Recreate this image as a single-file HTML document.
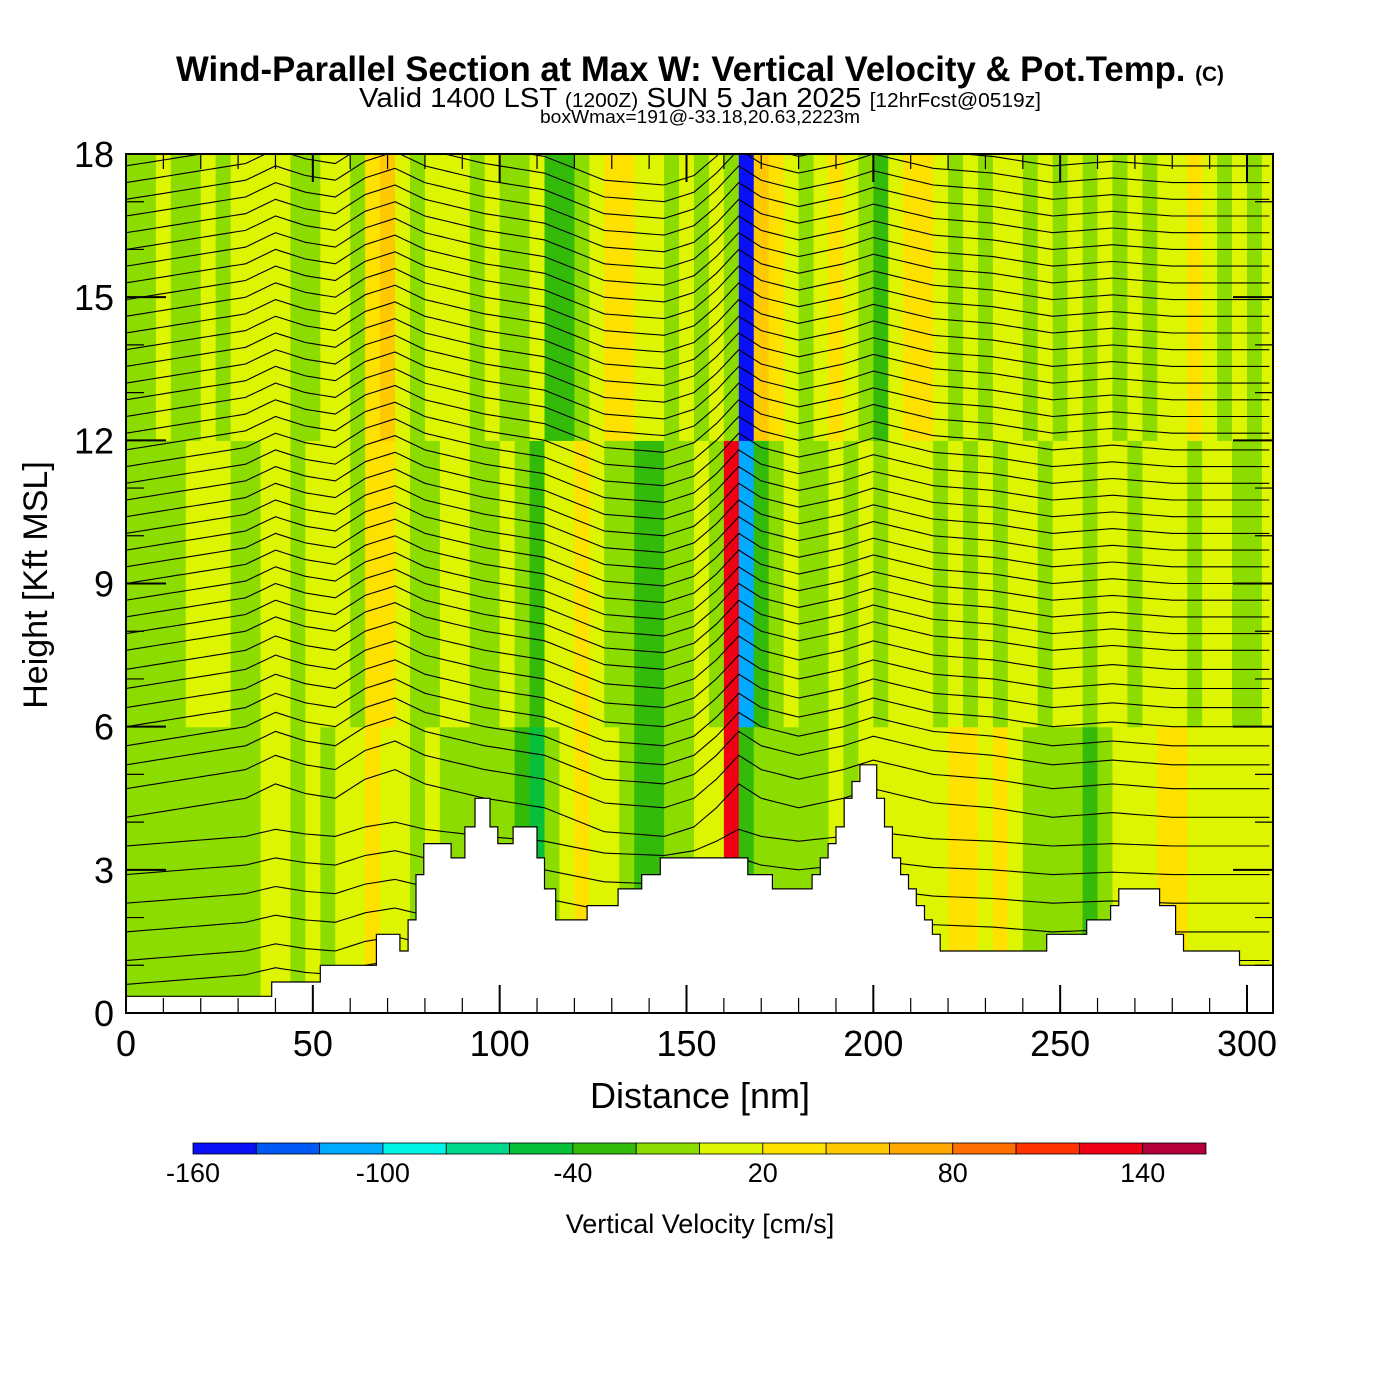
<!DOCTYPE html>
<html><head><meta charset="utf-8"><style>
html,body{margin:0;padding:0;background:#fff;}
svg{display:block;font-family:"Liberation Sans",sans-serif;}
</style></head><body>
<svg id="chart" width="1400" height="1400" viewBox="0 0 1400 1400" xmlns="http://www.w3.org/2000/svg">
<text x="700" y="81" text-anchor="middle" font-size="35" font-weight="bold" textLength="1048" lengthAdjust="spacingAndGlyphs">Wind-Parallel Section at Max W: Vertical Velocity &amp; Pot.Temp. <tspan font-size="21">(C)</tspan></text>
<text x="700" y="107" text-anchor="middle" font-size="28" textLength="682" lengthAdjust="spacingAndGlyphs">Valid 1400 LST <tspan font-size="20">(1200Z)</tspan> SUN 5 Jan 2025 <tspan font-size="20">[12hrFcst@0519z]</tspan></text>
<text x="700" y="123" text-anchor="middle" font-size="18" textLength="320" lengthAdjust="spacingAndGlyphs">boxWmax=191@-33.18,20.63,2223m</text>
<defs><clipPath id="plotclip"><rect x="126" y="154" width="1147" height="859"/></clipPath></defs>
<g id="cells" clip-path="url(#plotclip)"></g>
<g id="isentropes" clip-path="url(#plotclip)" fill="none" stroke="#000" stroke-width="1.1"></g>
<g id="terrain" clip-path="url(#plotclip)"></g>
<g id="axes"></g>
<g id="colorbar"></g>
<text x="700" y="1108" text-anchor="middle" font-size="36">Distance [nm]</text>
<text transform="translate(47,585) rotate(-90)" text-anchor="middle" font-size="34">Height [Kft MSL]</text>
<text x="700" y="1233" text-anchor="middle" font-size="27">Vertical Velocity [cm/s]</text>
</svg>
<script>
// ---- data ----
const colStartNm = [0,4,8,12,16,20,24,28,32,36,40,44,48,52,56,60,64,68,72,76,80,84,88,92,96,100,104,108,112,116,120,124,128,132,136,140,144,148,152,156,160,164,168,172,176,180,184,188,192,196,200,204,208,212,216,220,224,228,232,236,240,244,248,252,256,260,264,268,272,276,280,284,288,292,296,300,304];
const bandBottoms = [0,6,12];
const wLow = [-10,-10,-10,-10,-10,-10,-10,-10,-10,10,10,-10,10,-10,10,10,30,10,10,-10,10,-10,-10,-10,-10,-10,-30,-50,-10,10,30,10,10,-10,-30,-30,-10,-10,10,10,130,-30,-10,-10,-10,-10,-10,10,-10,10,10,10,10,10,10,30,30,10,30,10,-10,-10,-10,-10,-30,-10,10,10,10,30,30,10,10,10,10,10,10];
const wMid = [-10,-10,-10,-10,10,10,10,-10,-10,10,10,-10,10,10,10,-10,30,30,10,-10,-10,10,10,-10,-10,10,-10,-30,10,10,30,10,-10,-10,-30,-30,-10,-10,10,-10,130,-110,-30,-10,10,-10,-10,10,-10,10,-10,10,10,10,-10,10,-10,10,-10,10,10,-10,10,10,-10,10,10,-10,10,10,10,-10,10,10,-10,-10,10];
const wHigh = [-10,-10,10,-10,-10,10,-10,10,10,10,10,-10,-10,10,10,-10,30,40,10,-10,10,10,10,-10,10,-10,-10,10,-30,-30,-10,10,30,30,10,10,-10,10,-10,10,-10,-150,50,30,10,-10,10,30,10,-10,-30,10,30,30,10,-10,10,-10,10,10,-10,10,-10,10,-10,10,-10,10,-10,10,10,30,10,-10,10,-10,10];
const terrStartNm = [0,39,52,67,73.3,75.5,77.6,79.7,87,90.7,93.4,97.4,99.5,103.6,110,112,115,123.4,131.7,138,143,166.4,173,183.6,185.8,187.9,190,192.2,194.3,196.4,200.9,203,205.1,207.3,209.4,211.5,213.7,215.8,217.9,246.4,257.1,263.5,265.7,276.6,280.9,283,298];
const terrHeights = [0.35,0.65,1.0,1.65,1.3,1.95,2.9,3.55,3.25,3.9,4.5,3.9,3.55,3.9,3.25,2.6,1.95,2.25,2.6,2.9,3.25,2.9,2.6,2.9,3.25,3.55,3.9,4.5,4.85,5.2,4.5,3.9,3.25,2.9,2.6,2.25,1.95,1.65,1.3,1.65,1.95,2.25,2.6,2.25,1.65,1.3,1.0];
const thetaBaseKft = [0.6,1.1,1.7,2.3,2.9,3.5,4.1,4.7,5.2,5.6,6.0,6.4,6.8,7.2,7.6,7.95,8.3,8.65,9.0,9.35,9.7,10.05,10.4,10.75,11.1,11.45,11.8,12.15,12.5,12.85,13.2,13.55,13.9,14.25,14.6,14.95,15.3,15.65,16.0,16.35,16.7,17.05,17.4,17.75];
const dispNm = [0,16,32,40,48,56,64,72,80,96,112,128,144,152,158,164,170,180,192,200,216,232,248,264,280,306];
const dispKft = [0,0.2,0.4,0.7,0.5,0.4,0.8,1.0,0.7,0.4,0.2,-0.3,-0.4,-0.2,0.2,0.7,0.4,0.2,0.4,0.6,0.3,0.2,0.0,0.1,0.0,0];
const xTicks = [0,50,100,150,200,250,300];
const yTicks = [0,3,6,9,12,15,18];
const cbLevels = [-160,-140,-120,-100,-80,-60,-40,-20,0,20,40,60,80,100,120,140,160];
const cbColors = ["#0a10f5","#0058f5","#00aaff","#00f5e6","#00d88c","#08bf3a","#34bb0a","#8cdc00","#ddf500","#ffe100","#ffc800","#ffa800","#ff6e00","#ff3200","#f00014","#b40038"];
const cbLabels = [-160,-100,-40,20,80,140];

// ---- scales ----
const X0=126,X1=1273,Y0=1013,Y1=154;
const xS=nm=>X0+nm*(1121/300);
const yS=k=>Y0-k*(859/18);
const NS="http://www.w3.org/2000/svg";
function mk(tag,parent){const e=document.createElementNS(NS,tag);parent.appendChild(e);return e;}
function colorFor(v){let i=Math.floor((v-cbLevels[0])/20);i=Math.max(0,Math.min(cbColors.length-1,i));return cbColors[i];}

const cells=document.getElementById('cells');
const bands=[wLow,wMid,wHigh];
bands.forEach((arr,b)=>{
  arr.forEach((v,i)=>{
    const x0=xS(colStartNm[i]);
    const x1=i+1<colStartNm.length?xS(colStartNm[i+1]):X1;
    const r=mk('rect',cells);
    
    
    r.setAttribute('x',x0);r.setAttribute('width',x1-x0+0.6);
    r.setAttribute('y',yS(bandBottoms[b]+6));r.setAttribute('height',yS(bandBottoms[b])-yS(bandBottoms[b]+6)+0.6);
    r.setAttribute('fill',colorFor(v));
  });
});

// isentropes
function disp(nm){for(let i=0;i<dispNm.length-1;i++){if(nm>=dispNm[i]&&nm<=dispNm[i+1]){const t=(nm-dispNm[i])/(dispNm[i+1]-dispNm[i]);return dispKft[i]+t*(dispKft[i+1]-dispKft[i]);}}return 0;}
const iso=document.getElementById('isentropes');
thetaBaseKft.forEach((h,j)=>{
  let d='';
  const scale=h<4?0.5:1;
  for(let nm=0;nm<=307;nm+=2){d+=(nm?'L':'M')+xS(nm).toFixed(1)+','+yS(h+disp(nm)*scale).toFixed(1);}
  const p=mk('path',iso);
  
  
  p.setAttribute('d',d);
});

// terrain
const ter=document.getElementById('terrain');
let td='M'+xS(0)+','+(Y0+2);
terrHeights.forEach((h,i)=>{
  const a=xS(terrStartNm[i]);
  const b=i+1<terrStartNm.length?xS(terrStartNm[i+1]):X1+5;
  td+='L'+a.toFixed(1)+','+yS(h).toFixed(1)+'L'+b.toFixed(1)+','+yS(h).toFixed(1);
});
td+='L'+(X1+5)+','+(Y0+2)+'Z';
const tp=mk('path',ter);


tp.setAttribute('d',td);tp.setAttribute('fill','#fff');tp.setAttribute('stroke','#000');tp.setAttribute('stroke-width','1.2');

// axes
const ax=document.getElementById('axes');
const frame=mk('rect',ax);


frame.setAttribute('x',X0);frame.setAttribute('y',Y1);frame.setAttribute('width',X1-X0);frame.setAttribute('height',Y0-Y1);
frame.setAttribute('fill','none');frame.setAttribute('stroke','#000');frame.setAttribute('stroke-width','2');
for(let nm=0;nm<=300;nm+=10){
  const major=nm%50===0;const L=major?28:15;
  [[Y0,Y0-L],[Y1,Y1+L]].forEach(([a,b])=>{
    const t=mk('line',ax);
    
    
    t.setAttribute('x1',xS(nm));t.setAttribute('x2',xS(nm));t.setAttribute('y1',a);t.setAttribute('y2',b);
    t.setAttribute('stroke','#000');t.setAttribute('stroke-width',major?2:1.2);
  });
}
xTicks.forEach(v=>{
  const t=mk('text',ax);
  
  
  t.setAttribute('x',xS(v));t.setAttribute('y',1056);t.setAttribute('text-anchor','middle');t.setAttribute('font-size','36');
  t.textContent=v;
});
for(let k=0;k<=18;k+=1){
  const major=k%3===0;const L=major?40:18;
  [[X0,X0+L],[X1,X1-L]].forEach(([a,b])=>{
    const t=mk('line',ax);
    
    
    t.setAttribute('x1',a);t.setAttribute('x2',b);t.setAttribute('y1',yS(k));t.setAttribute('y2',yS(k));
    t.setAttribute('stroke','#000');t.setAttribute('stroke-width',major?2:1.2);
  });
}
yTicks.forEach(v=>{
  const t=mk('text',ax);
  
  
  t.setAttribute('x',114);t.setAttribute('y',yS(v)+13);t.setAttribute('text-anchor','end');t.setAttribute('font-size','36');
  t.textContent=v;
});

// colorbar
const cb=document.getElementById('colorbar');
const CB0=193,CB1=1206,cbW=(CB1-CB0)/cbColors.length;
cbColors.forEach((c,i)=>{
  const r=mk('rect',cb);
  
  
  r.setAttribute('x',CB0+i*cbW);r.setAttribute('y',1143);r.setAttribute('width',cbW);r.setAttribute('height',11);
  r.setAttribute('fill',c);r.setAttribute('stroke','#000');r.setAttribute('stroke-width','0.8');
});
cbLabels.forEach(v=>{
  const t=mk('text',cb);
  
  
  t.setAttribute('x',CB0+(v-cbLevels[0])/20*cbW);t.setAttribute('y',1182);t.setAttribute('text-anchor','middle');t.setAttribute('font-size','27');
  t.textContent=v;
});
</script>
</body></html>
